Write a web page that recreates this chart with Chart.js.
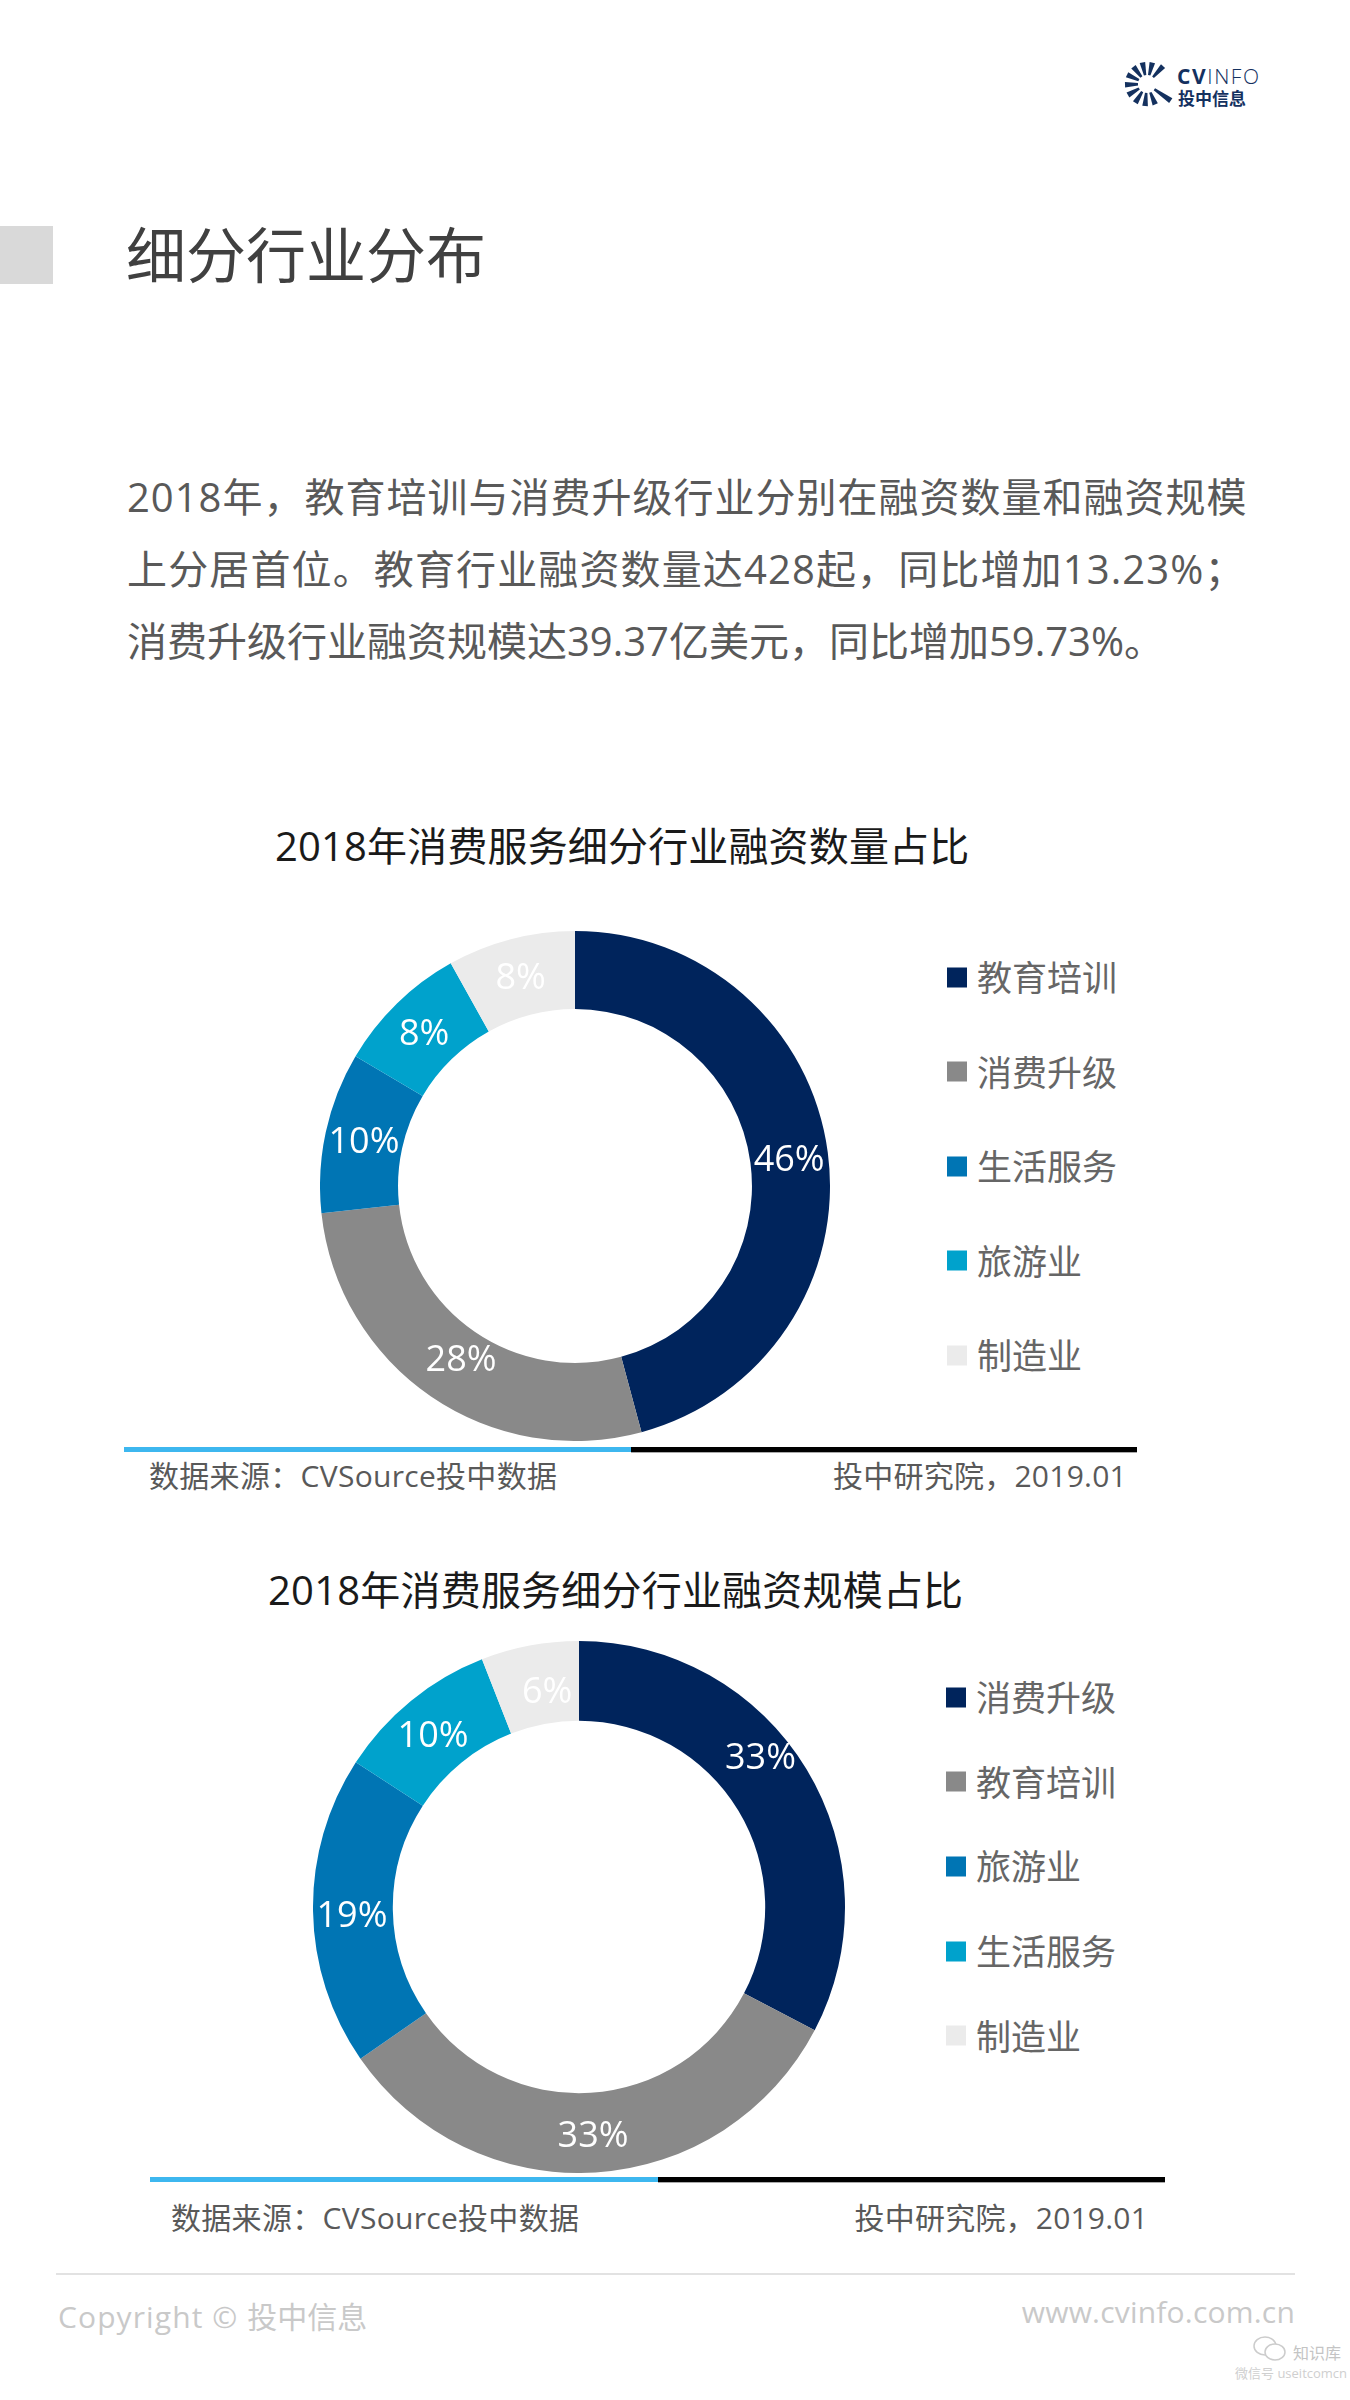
<!DOCTYPE html>
<html lang="zh-CN">
<head>
<meta charset="utf-8">
<title>细分行业分布</title>
<script src="https://cdn.jsdelivr.net/npm/chart.js@4"></script>
<style>
body { margin: 0; background: #fff; }
#page { position: relative; width: 1350px; height: 2400px; overflow: hidden; font-family: "Open Sans", "Noto Sans CJK SC", sans-serif; color: #595959; }
#page > * { position: absolute; }
.t { white-space: nowrap; line-height: 1; transform: translateY(-50%); }
.rule { height: 5px; }
.rule.dark { background: #000; border-bottom: 1px solid #aaa; }
.legend-row { display: flex; align-items: center; font-size: 35px; color: #666; white-space: nowrap; line-height: 1; transform: translateY(-50%); }
.legend-row i { display: block; width: 20px; height: 20px; margin-right: 10px; }
</style>
</head>
<body>
<div id="page">
  <svg id="logo" style="left:1120px;top:56px" width="56" height="56"></svg>
  <div class="t" style="left:1177px;top:76px;font-size:21px;letter-spacing:1.6px;color:#14315f;font-weight:700">CV<span style="font-weight:300">INFO</span></div>
  <div class="t" style="left:1178px;top:98px;font-size:17px;color:#14315f;font-weight:700">投中信息</div>

  <div style="left:0;top:226px;width:53px;height:58px;background:#d9d9d9"></div>
  <div class="t" style="left:126px;top:255px;font-size:60px;color:#404040">细分行业分布</div>

  <div class="t" style="left:127px;top:497px;font-size:40px;letter-spacing:1px">2018年，教育培训与消费升级行业分别在融资数量和融资规模</div>
  <div class="t" style="left:127px;top:569px;font-size:40px;letter-spacing:1.13px">上分居首位。教育行业融资数量达428起，同比增加13.23%；</div>
  <div class="t" style="left:127px;top:641px;font-size:40px">消费升级行业融资规模达39.37亿美元，同比增加59.73%。</div>

  <div class="t" style="left:275px;top:846px;font-size:40px;letter-spacing:0.15px;color:#1a1a1a">2018年消费服务细分行业融资数量占比</div>
  <canvas id="countChart" width="510" height="510" style="left:320px;top:931px"></canvas>
  <div id="countLegend"></div>
  <div class="rule" style="left:124px;top:1447px;width:507px;background:#3db7ef"></div>
  <div class="rule dark" style="left:631px;top:1447px;width:506px"></div>
  <div class="t" style="left:149px;top:1476px;font-size:30px;letter-spacing:0.3px">数据来源：CVSource投中数据</div>
  <div class="t" style="right:223px;top:1476px;font-size:30px;letter-spacing:0.25px">投中研究院，2019.01</div>

  <div class="t" style="left:268px;top:1590px;font-size:40px;letter-spacing:0.2px;color:#1a1a1a">2018年消费服务细分行业融资规模占比</div>
  <canvas id="amountChart" width="532" height="532" style="left:313px;top:1641px"></canvas>
  <div id="amountLegend"></div>
  <div class="rule" style="left:150px;top:2177px;width:508px;background:#3db7ef"></div>
  <div class="rule dark" style="left:658px;top:2177px;width:507px"></div>
  <div class="t" style="left:171px;top:2218px;font-size:30px;letter-spacing:0.3px">数据来源：CVSource投中数据</div>
  <div class="t" style="right:202px;top:2218px;font-size:30px;letter-spacing:0.2px">投中研究院，2019.01</div>

  <div style="left:56px;top:2273px;width:1239px;height:2px;background:#e2e2e2"></div>
  <div class="t" style="left:58px;top:2317px;font-size:30px;color:#c9c9c9"><span style="letter-spacing:1.1px">Copyright © </span>投中信息</div>
  <div class="t" style="right:55px;top:2312px;font-size:30px;letter-spacing:0.2px;color:#c9c9c9">www.cvinfo.com.cn</div>
  <svg style="left:1251px;top:2335px" width="40" height="30" fill="#fff" stroke="#ccc" stroke-width="1.5">
    <ellipse cx="14" cy="11" rx="11" ry="9"></ellipse>
    <ellipse cx="24" cy="17" rx="10" ry="8"></ellipse>
  </svg>
  <div class="t" style="left:1293px;top:2353px;font-size:16px;color:#c4c4c4">知识库</div>
  <div class="t" style="left:1235px;top:2373px;font-size:13px;color:#cfcfcf">微信号 useitcomcn</div>
</div>

<script>
// chart 1 - number of deals
const countLabels = ['教育培训', '消费升级', '生活服务', '旅游业', '制造业'];
const countValues = [45.8, 27.5, 10.2, 8.4, 8.1];

// chart 2 - deal amount
const amountLabels = ['消费升级', '教育培训', '旅游业', '生活服务', '制造业'];
const amountValues = [33, 33, 19, 10, 6];

const sliceColors = ['#00245c', '#898989', '#0075b4', '#00a2cc', '#ebebeb'];

// white percent text on top of each slice
const sliceLabels = {
    id: 'sliceLabels',
    afterDatasetsDraw(chart, args, opts) {
        const ctx = chart.ctx;
        const values = chart.data.datasets[0].data;
        ctx.save();
        ctx.font = '36px "Open Sans", sans-serif';
        ctx.fillStyle = '#fff';
        ctx.textAlign = 'center';
        ctx.textBaseline = 'middle';
        chart.getDatasetMeta(0).data.forEach((arc, i) => {
            const pos = arc.tooltipPosition();
            const nudge = opts.nudge[i];
            ctx.fillText(Math.round(values[i]) + '%', pos.x + nudge[0], pos.y + nudge[1]);
        });
        ctx.restore();
    }
};

function drawDonut(id, labels, values, cutout, nudge) {
    return new Chart(document.getElementById(id), {
        type: 'doughnut',
        data: {
            labels: labels,
            datasets: [{ data: values, backgroundColor: sliceColors, borderWidth: 0 }]
        },
        options: {
            responsive: false,
            animation: false,
            cutout: cutout,
            plugins: {
                legend: { display: false },
                tooltip: { enabled: false },
                sliceLabels: { nudge: nudge }
            }
        },
        plugins: [sliceLabels]
    });
}

function drawLegend(id, labels, left, top, step) {
    const box = document.getElementById(id);
    labels.forEach((label, i) => {
        const row = document.createElement('div');
        row.className = 'legend-row';
        row.style.position = 'absolute';
        row.style.left = left + 'px';
        row.style.top = (top + i * step) + 'px';
        row.innerHTML = '<i style="background:' + sliceColors[i] + '"></i>' + label;
        box.appendChild(row);
    });
}

drawDonut('countChart', countLabels, countValues, '69.4%', [[0, 3], [8, -4], [0, 3], [0, 3], [0, 2]]);
drawLegend('countLegend', countLabels, 947, 977, 94.6);

drawDonut('amountChart', amountLabels, amountValues, '70%', [[-12, -31], [0, 4], [-1, 6], [-3, 5], [10, 8]]);
drawLegend('amountLegend', amountLabels, 946, 1697, 84.7);

// logo rays, wedges around an open C
const logo = document.getElementById('logo');
[[35, 29], [68, 22], [95, 22], [122, 22], [150, 22], [178, 22], [205, 22], [232, 22], [258, 22], [284, 22], [312, 24]].forEach(ray => {
    const a = ray[0] * Math.PI / 180;
    const n = a + Math.PI / 2;
    const cx = 27, cy = 28;
    const inX = cx + Math.cos(a) * 9, inY = cy + Math.sin(a) * 9;
    const outX = cx + Math.cos(a) * ray[1], outY = cy + Math.sin(a) * ray[1];
    const pts = [
        [inX + Math.cos(n) * 1.2, inY + Math.sin(n) * 1.2],
        [outX + Math.cos(n) * 2.8, outY + Math.sin(n) * 2.8],
        [outX - Math.cos(n) * 2.8, outY - Math.sin(n) * 2.8],
        [inX - Math.cos(n) * 1.2, inY - Math.sin(n) * 1.2]
    ];
    const wedge = document.createElementNS('http://www.w3.org/2000/svg', 'polygon');
    wedge.setAttribute('points', pts.map(p => p.join(',')).join(' '));
    wedge.setAttribute('fill', '#14315f');
    logo.appendChild(wedge);
});
</script>
</body>
</html>
